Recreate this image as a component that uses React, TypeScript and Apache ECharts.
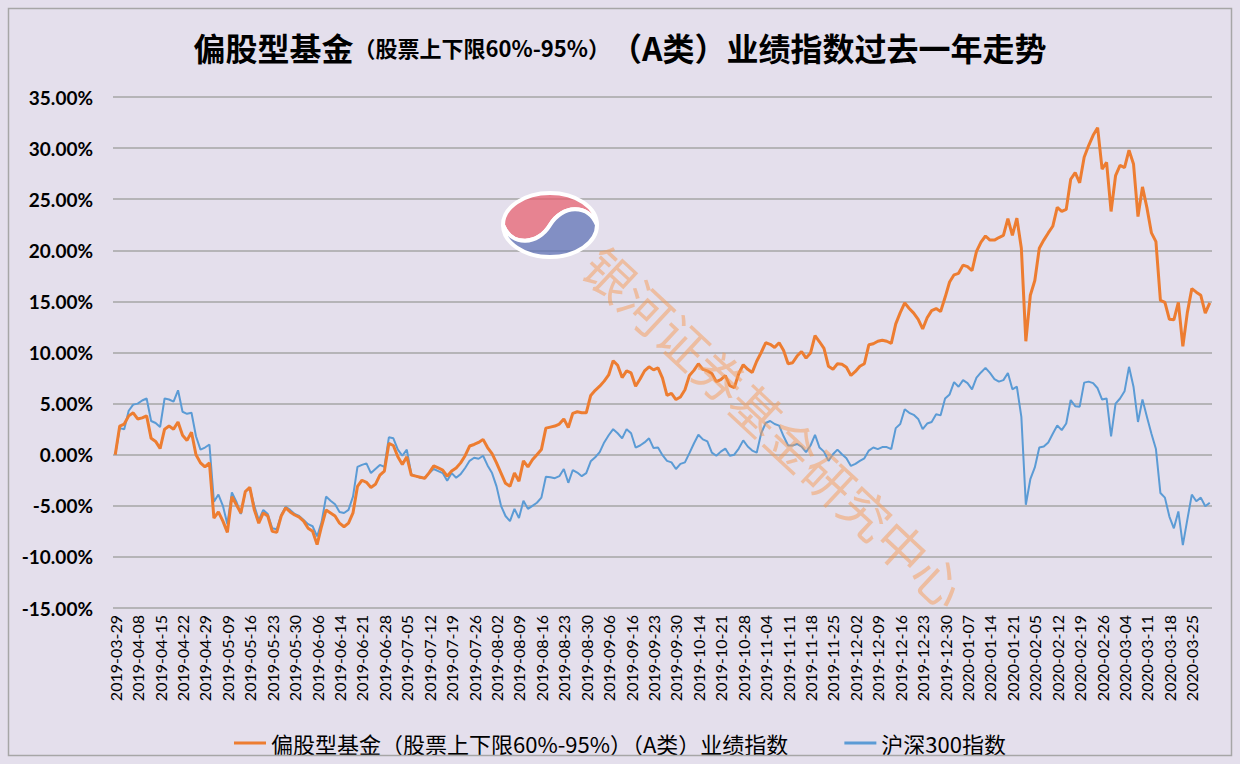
import React, { useEffect, useRef } from 'react';
import * as echarts from 'echarts';

// Trading days (China A-share), 2019-03-29 .. 2020-03-31
const days2019: [string, number[]][] = [
  ['03', [29]],
  ['04', [1, 2, 3, 4, 8, 9, 10, 11, 12, 15, 16, 17, 18, 19, 22, 23, 24, 25, 26, 29, 30]],
  ['05', [6, 7, 8, 9, 10, 13, 14, 15, 16, 17, 20, 21, 22, 23, 24, 27, 28, 29, 30, 31]],
  ['06', [3, 4, 5, 6, 10, 11, 12, 13, 14, 17, 18, 19, 20, 21, 24, 25, 26, 27, 28]],
  ['07', [1, 2, 3, 4, 5, 8, 9, 10, 11, 12, 15, 16, 17, 18, 19, 22, 23, 24, 25, 26, 29, 30, 31]],
  ['08', [1, 2, 5, 6, 7, 8, 9, 12, 13, 14, 15, 16, 19, 20, 21, 22, 23, 26, 27, 28, 29, 30]],
  ['09', [2, 3, 4, 5, 6, 9, 10, 11, 12, 16, 17, 18, 19, 20, 23, 24, 25, 26, 27, 30]],
  ['10', [8, 9, 10, 11, 14, 15, 16, 17, 18, 21, 22, 23, 24, 25, 28, 29, 30, 31]],
  ['11', [1, 4, 5, 6, 7, 8, 11, 12, 13, 14, 15, 18, 19, 20, 21, 22, 25, 26, 27, 28, 29]],
  ['12', [2, 3, 4, 5, 6, 9, 10, 11, 12, 13, 16, 17, 18, 19, 20, 23, 24, 25, 26, 27, 30, 31]],
];
const days2020: [string, number[]][] = [
  ['01', [2, 3, 6, 7, 8, 9, 10, 13, 14, 15, 16, 17, 20, 21, 22, 23]],
  ['02', [3, 4, 5, 6, 7, 10, 11, 12, 13, 14, 17, 18, 19, 20, 21, 24, 25, 26, 27, 28]],
  ['03', [2, 3, 4, 5, 6, 9, 10, 11, 12, 13, 16, 17, 18, 19, 20, 23, 24, 25, 26, 27, 30, 31]],
];

// 偏股型基金（股票上下限60%-95%）（A类）业绩指数, cumulative %
const fundIndex = [
  0, 2.8, 3.0, 3.8, 4.1, 3.5, 3.6, 3.8, 1.6, 1.3,
  0.6, 2.5, 2.8, 2.5, 3.2, 1.9, 1.4, 2.2, 0.0, -0.8,
  -1.2, -0.8, -6.2, -5.6, -6.5, -7.6, -4.1, -4.9, -5.7, -3.6,
  -3.2, -5.4, -6.7, -5.7, -6.0, -7.5, -7.6, -6.0, -5.2, -5.6,
  -5.9, -6.1, -6.5, -7.2, -7.5, -8.8, -7.0, -5.4, -5.7, -6.0,
  -6.7, -7.05, -6.7, -5.7, -3.1, -2.5, -2.7, -3.2, -2.9, -2.0,
  -1.6, 1.1, 0.9, -0.2, -0.95, -0.2, -2.0, -2.1, -2.2, -2.3,
  -1.75, -1.1, -1.3, -1.5, -2.1, -1.6, -1.3, -0.8, -0.1, 0.85,
  1.0, 1.2, 1.5, 0.7, 0.1, -0.8, -1.8, -2.8, -3.1, -1.8,
  -2.6, -0.6, -1.2, -0.5, 0.0, 0.5, 2.6, 2.7, 2.8, 3.0,
  3.5, 2.65, 4.05, 4.2, 4.1, 4.1, 5.8, 6.3, 6.7, 7.2,
  7.8, 9.2, 8.75, 7.55, 8.2, 8.0, 6.7, 7.4, 8.2, 8.6,
  8.3, 8.5, 7.5, 5.8, 6.0, 5.4, 5.65, 6.35, 7.75, 8.25,
  8.9, 8.35, 8.2, 7.95, 7.15, 7.35, 7.75, 6.75, 6.55, 7.95,
  8.8, 8.35, 8.05, 9.15, 10.0, 10.95, 10.8, 10.5, 10.95, 10.2,
  8.9, 9.0, 9.65, 10.1, 9.45, 9.95, 11.65, 11.05, 10.4, 8.65,
  8.35, 8.9, 8.85, 8.55, 7.75, 8.15, 8.65, 8.9, 10.75, 10.85,
  11.1, 11.2, 11.1, 10.9, 12.8, 13.9, 14.85, 14.3, 13.85, 13.25,
  12.3, 13.4, 14.1, 14.3, 14.0, 15.4, 16.9, 17.6, 17.75, 18.55,
  18.4, 18.0, 19.9, 20.8, 21.4, 21.0, 21.0, 21.25, 21.45, 23.1,
  21.45, 23.15, 20.2, 11.1, 15.6, 17.05, 20.2, 21.0, 21.7, 22.35,
  24.2, 23.8, 24.0, 26.95, 27.6, 26.6, 29.1, 30.25, 31.25, 32.0,
  27.95, 28.6, 23.8, 27.3, 28.3, 28.1, 29.8, 28.45, 23.3, 26.2,
  24.15, 21.7, 20.85, 15.1, 14.9, 13.25, 13.2, 14.9, 10.6, 13.9,
  16.25, 15.9, 15.6, 13.85, 14.85,
];

// 沪深300指数, cumulative %
const csi300 = [
  0, 2.6, 2.5, 4.3, 4.9, 5.0, 5.3, 5.5, 3.3, 3.1,
  2.7, 5.5, 5.4, 5.2, 6.3, 4.2, 4.0, 4.1, 1.8, 0.5,
  0.7, 1.0, -4.6, -3.9, -5.0, -6.8, -3.7, -4.6, -5.8, -3.6,
  -3.3, -5.0, -6.4, -5.4, -5.8, -7.2, -7.3, -5.9, -5.1, -5.4,
  -5.8, -6.0, -6.4, -6.8, -7.0, -8.0, -6.6, -4.1, -4.5, -4.85,
  -5.6, -5.7, -5.4, -4.1, -1.2, -1.0, -0.85, -1.8, -1.4, -1.0,
  -1.2, 1.7, 1.6, 0.5, -0.1, 0.5, -1.9, -2.1, -2.25, -2.3,
  -1.8, -1.4, -1.6, -1.8, -2.55, -1.8, -2.25, -1.9, -1.3, -0.6,
  -0.3, -0.4, -0.1, -1.05, -1.8, -3.1, -5.0, -6.0, -6.5, -5.3,
  -6.2, -4.5, -5.3, -5.0, -4.7, -4.2, -2.15, -2.2, -2.3, -2.1,
  -1.4, -2.75, -1.5, -1.75, -2.1, -1.8, -0.65, -0.25, 0.25, 1.2,
  1.9, 2.5, 2.1, 1.6, 2.5, 2.1, 0.7, 0.9, 1.2, 1.6,
  0.65, 0.7, -0.05, -0.6, -0.75, -1.4, -0.9, -0.75, 0.15, 1.1,
  1.95, 1.5, 1.3, 0.2, -0.1, 0.3, 0.6, -0.1, 0.0, 0.6,
  1.4, 0.8, 0.4, 0.2, 2.1, 3.1, 3.3, 3.0, 2.85, 1.8,
  0.9, 0.9, 1.05, 0.8, 0.25, 0.9, 1.95, 0.7, 0.3, -0.6,
  0.05, 0.5, 0.05, -0.35, -1.1, -0.9, -0.6, -0.35, 0.4, 0.7,
  0.55, 0.75, 0.75, 0.55, 2.6, 3.0, 4.45, 4.1, 3.9, 3.5,
  2.5, 3.05, 3.2, 3.95, 3.85, 5.5, 5.9, 7.1, 6.65, 7.3,
  7.0, 6.4, 7.55, 8.05, 8.5, 8.0, 7.4, 7.15, 7.3, 8.0,
  6.4, 6.65, 3.7, -4.9, -2.4, -1.25, 0.7, 0.8, 1.2, 2.05,
  2.85, 2.4, 3.05, 5.35, 4.75, 4.7, 7.05, 7.15, 7.0, 6.5,
  5.4, 5.5, 1.8, 5.0, 5.5, 6.2, 8.6, 6.65, 3.2, 5.4,
  3.7, 2.05, 0.55, -3.75, -4.2, -6.05, -7.2, -5.55, -8.85, -6.35,
  -3.9, -4.55, -4.2, -5.05, -4.7,
];

const seriesNames = ['偏股型基金（股票上下限60%-95%）（A类）业绩指数', '沪深300指数'];
const seriesColors = ['#ED7D31', '#5B9BD5'];
const titleParts = ['偏股型基金', '（股票上下限60%-95%）', '（A类）业绩指数过去一年走势'];
const watermarkText = '银河证券基金研究中心';

const pad = (n: number) => (n < 10 ? '0' + n : '' + n);
const buildDates = (year: string, months: [string, number[]][]) =>
  months.flatMap(([m, ds]) => ds.map((d) => `${year}-${m}-${pad(d)}`));
const dates = [...buildDates('2019', days2019), ...buildDates('2020', days2020)];

const redPath = 'M -47 0 A 47 32 0 0 1 47 0 C 38 -22 12 -20 0 0 C -12 20 -38 22 -47 0 Z';
const bluePath = 'M -47 0 C -38 22 -12 20 0 0 C 12 -20 38 -22 47 0 A 47 32 0 0 1 -47 0 Z';
let registered = false;
function registerShapes() {
  if (registered) return;
  registered = true;
  echarts.graphic.registerShape('logoRed', echarts.graphic.extendPath(redPath, {}) as any);
  echarts.graphic.registerShape('logoBlue', echarts.graphic.extendPath(bluePath, {}) as any);
}

export default function App() {
  const ref = useRef<HTMLDivElement>(null);
  useEffect(() => {
    if (!ref.current) return;
    registerShapes();
    const chart = echarts.init(ref.current, undefined, { renderer: 'svg' });
    const option: any = {
      animation: false,
      backgroundColor: '#E4DFEC',
      title: {
        text: `{a|${titleParts[0]}}{b|${titleParts[1]}}{a|${titleParts[2]}}`,
        left: 'center',
        top: 26,
        textStyle: {
          rich: {
            a: { fontSize: 32, fontWeight: 'bold', fontFamily: 'Noto Sans CJK SC', color: '#000' },
            b: { fontSize: 22, fontWeight: 'bold', fontFamily: 'Noto Sans CJK SC', color: '#000' },
          },
        },
      },
      grid: { left: 113, right: 28, top: 97, bottom: 156 },
      xAxis: {
        type: 'category',
        data: dates,
        boundaryGap: true,
        axisLine: { show: false },
        axisTick: { show: false },
        splitLine: { show: false },
        axisLabel: {
          interval: 4,
          rotate: 90,
          margin: 7,
          fontSize: 16,
          fontFamily: 'Lato',
          color: '#000',
        },
      },
      yAxis: {
        type: 'value',
        min: -15,
        max: 35,
        interval: 5,
        axisLine: { show: false },
        axisTick: { show: false },
        splitLine: { lineStyle: { color: '#A6A6A6', width: 1.5 } },
        axisLabel: {
          formatter: (v: number) => v.toFixed(2) + '%',
          fontSize: 19,
          fontWeight: 'bold',
          fontFamily: 'Lato',
          color: '#000',
          margin: 20,
        },
      },
      legend: {
        data: seriesNames.map((n, i) => ({ name: n, icon: 'rect', itemStyle: { color: seriesColors[i] } })),
        top: 727,
        left: 'center',
        itemWidth: 32,
        itemHeight: 3,
        itemGap: 56,
        textStyle: { fontSize: 22, fontFamily: 'Noto Sans CJK SC', color: '#000' },
      },
      series: [
        {
          name: seriesNames[0],
          type: 'line',
          data: fundIndex,
          symbol: 'none',
          lineStyle: { color: seriesColors[0], width: 3 },
          itemStyle: { color: seriesColors[0] },
          z: 3,
        },
        {
          name: seriesNames[1],
          type: 'line',
          data: csi300,
          symbol: 'none',
          lineStyle: { color: seriesColors[1], width: 2 },
          itemStyle: { color: seriesColors[1] },
          z: 2,
        },
      ],
      graphic: [
        {
          type: 'rect',
          shape: { x: 8.5, y: 8.5, width: 1223, height: 747 },
          style: { fill: 'none', stroke: '#A6A6A6', lineWidth: 1.5 },
          silent: true,
          z: 100,
        },
        {
          type: 'logoRed',
          x: 550,
          y: 225,
          style: { fill: 'rgba(232,96,110,0.72)', stroke: '#ffffff', lineWidth: 4 },
          silent: true,
          z: 100,
        },
        {
          type: 'logoBlue',
          x: 550,
          y: 225,
          style: { fill: 'rgba(92,112,180,0.72)', stroke: '#ffffff', lineWidth: 4 },
          silent: true,
          z: 100,
        },
        {
          type: 'text',
          x: 776,
          y: 426,
          rotation: -43 * Math.PI / 180,
          style: {
            text: watermarkText,
            fontSize: 50,
            fontFamily: 'Noto Sans CJK SC',
            fill: 'rgba(245,155,85,0.5)',
            align: 'center',
            verticalAlign: 'middle',
          },
          silent: true,
          z: 100,
        },
      ],
    };
    chart.setOption(option);
    return () => chart.dispose();
  }, []);
  return (
    <div
      ref={ref}
      style={{ position: 'absolute', left: 0, top: 0, width: 1240, height: 764 }}
    />
  );
}
